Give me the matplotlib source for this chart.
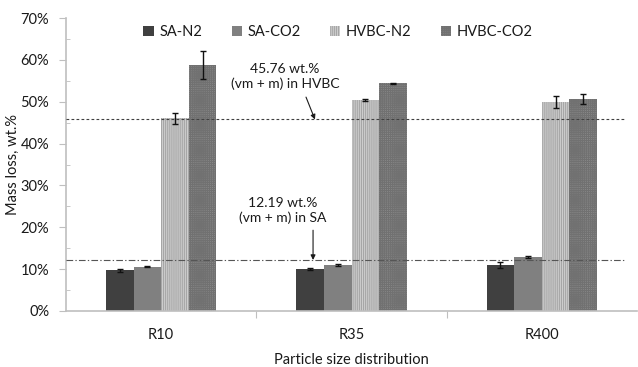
import matplotlib
matplotlib.use("Agg")
import matplotlib.pyplot as plt
import numpy as np
from matplotlib.ticker import MultipleLocator, FuncFormatter

plt.rcParams['font.family'] = ['Lato', 'DejaVu Sans']
plt.rcParams['hatch.linewidth'] = 0.8

categories = ["R10", "R35", "R400"]
series_names = ["SA-N2", "SA-CO2", "HVBC-N2", "HVBC-CO2"]
sa_n2 = [9.7, 10.1, 11.0]
sa_n2_err = [0.4, 0.2, 0.8]
sa_co2 = [10.6, 11.0, 12.9]
sa_co2_err = [0.15, 0.2, 0.15]
hvbc_n2 = [46.0, 50.4, 50.0]
hvbc_n2_err = [1.4, 0.15, 1.4]
hvbc_co2 = [58.8, 54.4, 50.6]
hvbc_co2_err = [3.4, 0.1, 1.2]
hvbc_ref = 45.76
sa_ref = 12.19

values = [sa_n2, sa_co2, hvbc_n2, hvbc_co2]
errors = [sa_n2_err, sa_co2_err, hvbc_n2_err, hvbc_co2_err]
styles = [
    dict(color='#404040', hatch=None, edge='#404040'),
    dict(color='#808080', hatch=None, edge='#808080'),
    dict(color='#cfcfcf', hatch='||||||||', edge='#a6a6a6'),
    dict(color='#8a8a8a', hatch='++++++++', edge='#717171'),
]

fig = plt.figure(figsize=(6.38, 3.67), dpi=100)
ax = fig.add_axes([66/638, 1 - 311/367, (637-66)/638, (311-18)/367])

x = np.arange(len(categories))
bw = 0.145
for i, (vals, errs, st) in enumerate(zip(values, errors, styles)):
    pos = x + (i - 1.5) * bw
    ax.bar(pos, vals, width=bw, color=st['color'], hatch=st['hatch'],
           edgecolor=st['edge'], linewidth=0, label=series_names[i], zorder=2)
    ax.errorbar(pos, vals, yerr=errs, fmt='none', ecolor='#111111',
                elinewidth=1, capsize=2.5, capthick=1, zorder=4)

# reference levels of volatile matter + moisture
x_end = 2.443
ax.plot([-0.5, x_end], [hvbc_ref, hvbc_ref], color='#404040', lw=0.8,
        dashes=(2.5, 2), zorder=3)
ax.plot([-0.5, x_end], [sa_ref, sa_ref], color='#555555', lw=0.8,
        dashes=(6, 2, 1.2, 2), zorder=3)

ax.text(0.651, 56.0, "45.76 wt.%\n(vm + m) in HVBC", ha='center', va='center',
        fontsize=10, color='#1a1a1a', linespacing=1.25)
ax.annotate('', xy=(0.808, hvbc_ref), xytext=(0.761, 51.1),
            arrowprops=dict(arrowstyle='-|>', color='#1a1a1a', lw=0.8,
                            mutation_scale=7, shrinkA=0, shrinkB=0))
ax.text(0.640, 24.0, "12.19 wt.%\n(vm + m) in SA", ha='center', va='center',
        fontsize=10, color='#1a1a1a', linespacing=1.25)
ax.annotate('', xy=(0.798, sa_ref), xytext=(0.798, 19.3),
            arrowprops=dict(arrowstyle='-|>', color='#1a1a1a', lw=0.8,
                            mutation_scale=7, shrinkA=0, shrinkB=0))

ax.set_xlim(-0.5, 2.5)
ax.set_ylim(0, 70)
ax.yaxis.set_major_locator(MultipleLocator(10))
ax.yaxis.set_minor_locator(MultipleLocator(5))
ax.yaxis.set_major_formatter(FuncFormatter(lambda v, p: f"{v:.0f}%"))

ax.set_xticks([0.5, 1.5])
ax.set_xticklabels([])
ax.set_xticks(x, minor=True)
ax.set_xticklabels(categories, minor=True)
ax.tick_params(axis='x', which='major', length=5, color='#bfbfbf', direction='out')
ax.tick_params(axis='x', which='minor', length=0, pad=12, labelsize=10.5,
               labelcolor='#1a1a1a')
ax.tick_params(axis='y', which='major', length=5, color='#bfbfbf', direction='out',
               labelsize=10.5, labelcolor='#1a1a1a', pad=7)
ax.tick_params(axis='y', which='minor', length=3, color='#bfbfbf', direction='in')

for s in ['top', 'right']:
    ax.spines[s].set_visible(False)
for s in ['left', 'bottom']:
    ax.spines[s].set_color('#bfbfbf')
    ax.spines[s].set_linewidth(1.2)

ax.set_ylabel("Mass loss, wt.%", fontsize=10.5, color='#1a1a1a')
ax.yaxis.set_label_coords(-0.08, 0.5)
ax.set_xlabel("Particle size distribution", fontsize=10.5, color='#1a1a1a', labelpad=8)

fig.legend(loc='center', bbox_to_anchor=(0.53, 1 - 32/367), ncol=4, frameon=False,
           fontsize=10.5, handlelength=0.7, handleheight=0.7, handletextpad=0.4,
           columnspacing=2.0, labelcolor='#1a1a1a')

fig.savefig("out.png", dpi=100)
